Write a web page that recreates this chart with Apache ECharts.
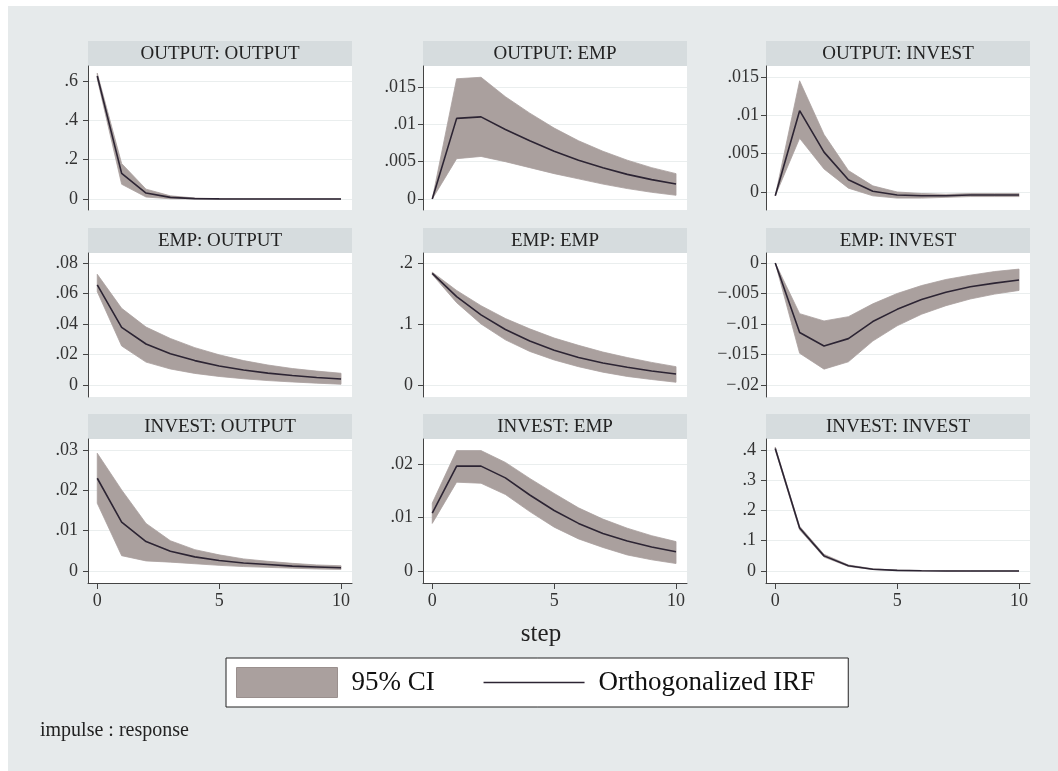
<!DOCTYPE html>
<html>
<head>
<meta charset="utf-8">
<script src="https://cdn.jsdelivr.net/npm/echarts@6/dist/echarts.min.js"></script>
<style>
  html, body { margin: 0; padding: 0; background: #fff; }
  #chart { width: 1058px; height: 771px; }
</style>
</head>
<body>
<div id="chart"></div>
<script>
const steps = [0, 1, 2, 3, 4, 5, 6, 7, 8, 9, 10];
const xTicks = [0, 5, 10];

// impulse : response
const titles = ['OUTPUT: OUTPUT', 'OUTPUT: EMP', 'OUTPUT: INVEST',
                'EMP: OUTPUT', 'EMP: EMP', 'EMP: INVEST',
                'INVEST: OUTPUT', 'INVEST: EMP', 'INVEST: INVEST'];

// OUTPUT: OUTPUT
const irfOutOut = [0.625, 0.13, 0.03, 0.008, 0.002, 0.0005, 0.0001, 0, 0, 0, 0];
const loOutOut  = [0.61, 0.075, 0.01, 0.001, 0, 0, 0, 0, 0, 0, 0];
const hiOutOut  = [0.64, 0.18, 0.05, 0.016, 0.005, 0.0015, 0.0005, 0.0002, 0.0001, 0, 0];
const ticksOutOut = [0, 0.2, 0.4, 0.6];

// OUTPUT: EMP
const irfOutEmp = [0, 0.0108, 0.011, 0.0093, 0.0078, 0.0064, 0.0052, 0.0042, 0.0033, 0.0026, 0.002];
const loOutEmp  = [0, 0.0054, 0.0057, 0.005, 0.0042, 0.0034, 0.0027, 0.002, 0.0014, 0.0009, 0.0005];
const hiOutEmp  = [0, 0.0161, 0.0163, 0.0137, 0.0115, 0.0095, 0.0078, 0.0064, 0.0052, 0.0042, 0.0034];
const ticksOutEmp = [0, 0.005, 0.01, 0.015];

// OUTPUT: INVEST
const irfOutInv = [-0.0005, 0.0106, 0.0052, 0.0016, 0.0001, -0.0004, -0.0005, -0.0005, -0.0004, -0.0004, -0.0004];
const loOutInv  = [-0.0005, 0.007, 0.003, 0.0005, -0.0005, -0.0008, -0.0008, -0.0007, -0.0006, -0.0006, -0.0006];
const hiOutInv  = [-0.0005, 0.0145, 0.0075, 0.0028, 0.0008, 0, -0.0002, -0.0003, -0.0002, -0.0002, -0.0002];
const ticksOutInv = [0, 0.005, 0.01, 0.015];

// EMP: OUTPUT
const irfEmpOut = [0.0656, 0.0378, 0.0269, 0.0205, 0.016, 0.0125, 0.0098, 0.0078, 0.0062, 0.0049, 0.0039];
const loEmpOut  = [0.0612, 0.0256, 0.015, 0.0105, 0.0076, 0.0056, 0.0041, 0.0029, 0.002, 0.0012, 0.0005];
const hiEmpOut  = [0.0726, 0.0503, 0.038, 0.0305, 0.0245, 0.0198, 0.016, 0.0131, 0.0108, 0.0091, 0.0077];
const ticksEmpOut = [0, 0.02, 0.04, 0.06, 0.08];

// EMP: EMP
const irfEmpEmp = [0.183, 0.145, 0.115, 0.091, 0.072, 0.057, 0.045, 0.036, 0.029, 0.023, 0.018];
const loEmpEmp  = [0.181, 0.135, 0.1, 0.074, 0.055, 0.041, 0.03, 0.021, 0.014, 0.009, 0.0045];
const hiEmpEmp  = [0.185, 0.155, 0.13, 0.109, 0.092, 0.077, 0.065, 0.054, 0.045, 0.037, 0.03];
const ticksEmpEmp = [0, 0.1, 0.2];

// EMP: INVEST
const irfEmpInv = [0, -0.0114, -0.0136, -0.0124, -0.0096, -0.0076, -0.006, -0.0048, -0.0039, -0.0033, -0.0028];
const loEmpInv  = [0, -0.0148, -0.0174, -0.0162, -0.0128, -0.0103, -0.0084, -0.007, -0.0059, -0.0051, -0.0045];
const hiEmpInv  = [0, -0.0083, -0.0095, -0.0088, -0.0067, -0.005, -0.0037, -0.0027, -0.002, -0.0014, -0.001];
const ticksEmpInv = [-0.02, -0.015, -0.01, -0.005, 0];

// INVEST: OUTPUT
const irfInvOut = [0.023, 0.0121, 0.0073, 0.0049, 0.0035, 0.0026, 0.002, 0.0016, 0.0012, 0.001, 0.0008];
const loInvOut  = [0.0168, 0.0038, 0.0025, 0.0022, 0.0018, 0.0014, 0.0011, 0.0009, 0.0007, 0.0005, 0.0004];
const hiInvOut  = [0.0292, 0.0201, 0.0118, 0.0075, 0.0053, 0.004, 0.003, 0.0024, 0.0019, 0.0015, 0.0013];
const ticksInvOut = [0, 0.01, 0.02, 0.03];

// INVEST: EMP
const irfInvEmp = [0.0108, 0.0196, 0.0196, 0.0174, 0.0142, 0.0113, 0.0089, 0.007, 0.0056, 0.0045, 0.0036];
const loInvEmp  = [0.0089, 0.0166, 0.0164, 0.0143, 0.0111, 0.0082, 0.006, 0.0044, 0.003, 0.0021, 0.0014];
const hiInvEmp  = [0.0127, 0.0225, 0.0225, 0.0203, 0.0173, 0.0145, 0.0118, 0.0097, 0.008, 0.0066, 0.0055];
const ticksInvEmp = [0, 0.01, 0.02];

// INVEST: INVEST
const irfInvInv = [0.405, 0.142, 0.05, 0.0175, 0.006, 0.002, 0.0007, 0.0002, 0.0001, 0, 0];
const loInvInv  = [0.4, 0.136, 0.046, 0.015, 0.0048, 0.0014, 0.0004, 0.0001, 0, 0, 0];
const hiInvInv  = [0.41, 0.148, 0.055, 0.02, 0.0075, 0.0028, 0.001, 0.0004, 0.0001, 0, 0];
const ticksInvInv = [0, 0.1, 0.2, 0.3, 0.4];

const panels = [
  { irf: irfOutOut, lo: loOutOut, hi: hiOutOut, ticks: ticksOutOut },
  { irf: irfOutEmp, lo: loOutEmp, hi: hiOutEmp, ticks: ticksOutEmp },
  { irf: irfOutInv, lo: loOutInv, hi: hiOutInv, ticks: ticksOutInv },
  { irf: irfEmpOut, lo: loEmpOut, hi: hiEmpOut, ticks: ticksEmpOut },
  { irf: irfEmpEmp, lo: loEmpEmp, hi: hiEmpEmp, ticks: ticksEmpEmp },
  { irf: irfEmpInv, lo: loEmpInv, hi: hiEmpInv, ticks: ticksEmpInv },
  { irf: irfInvOut, lo: loInvOut, hi: hiInvOut, ticks: ticksInvOut },
  { irf: irfInvEmp, lo: loInvEmp, hi: hiInvEmp, ticks: ticksInvEmp },
  { irf: irfInvInv, lo: loInvInv, hi: hiInvInv, ticks: ticksInvInv }
];

// axis ranges (plot region runs a bit past the ticks, like Stata)
const yRange = [
  [-0.056, 0.676], [-0.00147, 0.01781], [-0.00235, 0.01643],
  [-0.00787, 0.08656], [-0.0197, 0.2164], [-0.02197, 0.00164],
  [-0.002975, 0.03273], [-0.00224, 0.02467], [-0.0397, 0.4364]
];
const xRange = [-0.38, 10.45];

// layout
const colLeft = [88, 423, 766];
const rowTop = [66, 253, 439];
const plotW = 264, plotH = 144, stripH = 25;
const labelGap = [10, 7, 7, 10, 10, 7, 10, 10, 10];

const FONT = 'Liberation Serif';
const BG = '#e6eaeb';
const STRIP = '#d6dcde';
const BAND = '#aaa09e';
const LINE = '#2c2433';
const AXIS = '#444';

const fmt = v => {
  if (v === 0) return '0';
  let s = String(+v.toPrecision(6));
  s = s.replace(/^(-?)0\./, '$1.');
  return s.replace('-', '\u2212');
};

const grid = [], xAxis = [], yAxis = [], series = [], graphic = [];

// white margin at top/left of the picture
graphic.push({ type: 'rect', shape: { x: 0, y: 0, width: 1058, height: 6 }, style: { fill: '#fff' } });
graphic.push({ type: 'rect', shape: { x: 0, y: 0, width: 8, height: 771 }, style: { fill: '#fff' } });

panels.forEach((p, i) => {
  const row = Math.floor(i / 3), col = i % 3;
  const left = colLeft[col], top = rowTop[row];

  grid.push({
    left: left, top: top, width: plotW, height: plotH,
    show: true, backgroundColor: '#fff', borderWidth: 0, containLabel: false
  });

  xAxis.push({
    type: 'value', gridIndex: i, min: xRange[0], max: xRange[1],
    show: row === 2,
    axisLine: { show: true, onZero: false, lineStyle: { color: AXIS, width: 1 } },
    axisTick: { show: true, length: 6, customValues: xTicks, lineStyle: { color: AXIS } },
    axisLabel: { customValues: xTicks, margin: 9, fontFamily: FONT, fontSize: 18, color: '#333' },
    splitLine: { show: false }
  });

  yAxis.push({
    type: 'value', gridIndex: i, min: yRange[i][0], max: yRange[i][1],
    axisLine: { show: true, onZero: false, lineStyle: { color: AXIS, width: 1 } },
    axisTick: { show: true, length: 5, customValues: p.ticks, lineStyle: { color: AXIS } },
    axisLabel: { customValues: p.ticks, formatter: fmt, margin: labelGap[i], fontFamily: FONT, fontSize: 18, color: '#333' },
    splitLine: { show: true, lineStyle: { color: '#eaeeee', width: 1 } }
  });

  // confidence band: polygon upper edge forward, lower edge back
  series.push({
    type: 'custom', name: '95% CI', xAxisIndex: i, yAxisIndex: i,
    data: steps.map((s, k) => [s, p.lo[k], p.hi[k]]),
    encode: { x: 0, y: [1, 2] },
    itemStyle: { color: BAND }, silent: true, z: 2,
    renderItem: (params, api) => {
      if (params.dataIndex !== 0) return null;
      const pts = [];
      steps.forEach((s, k) => pts.push(api.coord([s, p.hi[k]])));
      for (let k = steps.length - 1; k >= 0; k--) pts.push(api.coord([steps[k], p.lo[k]]));
      return { type: 'polygon', shape: { points: pts }, style: { fill: BAND, stroke: BAND, lineWidth: 0.8 } };
    }
  });
  series.push({
    type: 'line', name: 'Orthogonalized IRF', xAxisIndex: i, yAxisIndex: i,
    data: steps.map((s, k) => [s, p.irf[k]]),
    symbol: 'none', silent: true,
    lineStyle: { color: LINE, width: 1.6 }, itemStyle: { color: LINE }, z: 3
  });

  // panel title strip
  graphic.push({
    type: 'group', left: left, top: top - stripH,
    children: [
      { type: 'rect', shape: { x: 0, y: 0, width: plotW, height: stripH }, style: { fill: STRIP } },
      { type: 'text', x: plotW / 2, y: stripH / 2 + 1,
        style: { text: titles[i], font: '19px "' + FONT + '"', fill: '#222', align: 'center', verticalAlign: 'middle' } }
    ]
  });
});

graphic.push({
  type: 'text', x: 541, y: 634,
  style: { text: 'step', font: '25px "' + FONT + '"', fill: '#222', align: 'center', verticalAlign: 'middle' }
});
graphic.push({
  type: 'text', x: 40, y: 731,
  style: { text: 'impulse : response', font: '20px "' + FONT + '"', fill: '#222', align: 'left', verticalAlign: 'middle' }
});

const chart = echarts.init(document.getElementById('chart'), null, { renderer: 'canvas' });
chart.setOption({
  animation: false,
  backgroundColor: BG,
  grid: grid,
  xAxis: xAxis,
  yAxis: yAxis,
  series: series,
  graphic: graphic,
  legend: {
    left: 226, top: 658, orient: 'horizontal',
    backgroundColor: '#fff', borderColor: '#222', borderWidth: 1, borderRadius: 0,
    padding: [9, 33, 9, 10], itemGap: 48, itemWidth: 101, itemHeight: 30,
    selectedMode: false,
    textStyle: { fontFamily: FONT, fontSize: 27, color: '#111', padding: [0, 0, 0, 9] },
    data: [
      { name: '95% CI', icon: 'rect', itemStyle: { color: BAND, borderColor: '#9a908e', borderWidth: 1 } },
      { name: 'Orthogonalized IRF', itemStyle: { color: 'rgba(0,0,0,0)', borderWidth: 0, opacity: 0 },
        lineStyle: { color: LINE, width: 1.6 } }
    ]
  }
});
</script>
</body>
</html>
